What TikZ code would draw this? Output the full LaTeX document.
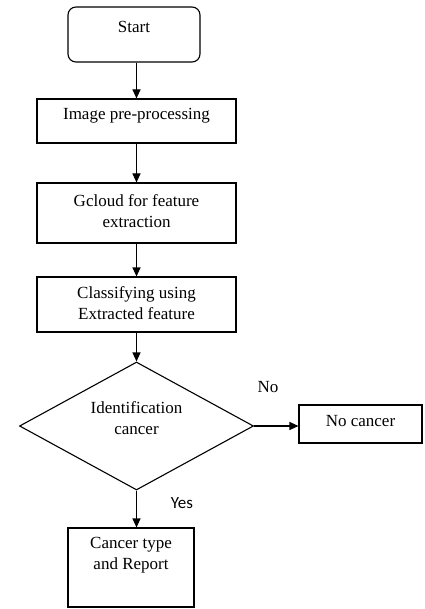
\documentclass[tikz,border=0pt]{standalone}
\usepackage{fontspec}
\setmainfont{Liberation Serif}
\newfontfamily\yesfont{Carlito}
\usetikzlibrary{arrows.meta,shapes.geometric}
\tikzset{
  every node/.style={font=\fontsize{17}{21}\selectfont},
  shapebox/.style={draw, line width=1.1pt, inner sep=0pt, rectangle},
  roundbox/.style={shapebox, rounded corners=8pt},
  decision/.style={draw, line width=1.1pt, inner sep=0pt, diamond},
  inner/.style={align=center, inner sep=0pt},
  arr/.style={line width=1.1pt, -{Triangle[length=9pt,width=8pt]}},
}
\begin{document}
\begin{tikzpicture}[x=1pt,y=-1pt]
\useasboundingbox (0,0) rectangle (424,609);
\node[roundbox, minimum width=132pt, minimum height=55pt,
  label={[inner, yshift=7.5pt]center:Start}] (start) at (134,34.5) {};
\node[shapebox, minimum width=199pt, minimum height=44pt,
  label={[inner, yshift=5pt]center:Image pre-processing}] (pre) at (136.5,121) {};
\node[shapebox, minimum width=199pt, minimum height=60pt,
  label={[inner, yshift=2pt]center:Gcloud for feature\\extraction}] (gcloud) at (136.5,213) {};
\node[shapebox, minimum width=199pt, minimum height=55pt,
  label={[inner, yshift=1pt]center:Classifying using\\Extracted feature}] (classify) at (136.5,304.5) {};
\node[decision, minimum width=234pt, minimum height=128pt,
  label={[inner, yshift=7.5pt]center:Identification\\cancer}] (dia) at (136.5,426) {};
\node[shapebox, minimum width=123pt, minimum height=38pt,
  label={[inner, yshift=3pt]center:No cancer}] (nocancer) at (360.5,424) {};
\node[shapebox, minimum width=126pt, minimum height=79pt,
  label={[inner, yshift=12pt]center:Cancer type\\and Report}] (cancer) at (131,567.5) {};
\node[inner] (nolab) at (268,387) {No};
\node[inner, font=\yesfont\fontsize{17}{21}\selectfont] (yeslab) at (182,503) {Yes};
\draw[arr] (pre.north |- start.south) -- (pre.north);
\draw[arr] (pre.south) -- (gcloud.north);
\draw[arr] (gcloud.south) -- (classify.north);
\draw[arr] (classify.south) -- (dia.north);
\draw[arr] (dia.east) -- (nocancer.west |- dia.east);
\draw[arr] (dia.south) -- (dia.south |- cancer.north);
\end{tikzpicture}
\end{document}
